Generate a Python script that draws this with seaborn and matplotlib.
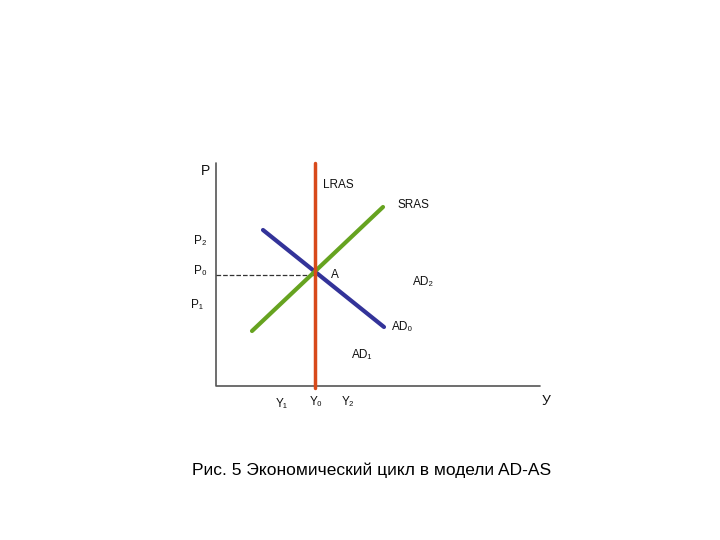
import pandas as pd
import seaborn as sns
import matplotlib.pyplot as plt

sns.set_style('white')
plt.rcParams['font.family'] = ['Liberation Sans', 'DejaVu Sans']

# coordinates in picture space (x right, y down)
axis_x = [216, 216, 540]
axis_y = [163, 386, 386]
lras_x = [315, 315]
lras_y = [163, 388]
sras_x = [252, 383]
sras_y = [331, 207]
ad_x = [263, 384]
ad_y = [230, 327]
p0_x = [216, 315]
p0_y = [275, 275]

labels = ['P', 'LRAS', 'SRAS', 'P₂', 'P₀', 'A', 'AD₂', 'P₁', 'AD₀', 'AD₁', 'Y₁', 'Y₀', 'Y₂', 'У']
label_x = [205, 338, 413, 200, 200, 335, 423, 197, 403, 362, 282, 316, 348, 546]
label_y = [171, 185, 205, 241, 271, 275, 282, 305, 327, 355, 404, 402, 402, 401]

fig = plt.figure(figsize=(7.2, 5.4), dpi=100)
ax = fig.add_axes([0, 0, 1, 1])

kw = dict(sort=False, estimator=None, ax=ax)
sns.lineplot(x=axis_x, y=axis_y, color='#555555', lw=1.2, **kw)
sns.lineplot(x=p0_x, y=p0_y, color='#333333', lw=0.9, ls='--', **kw)
sns.lineplot(x=ad_x, y=ad_y, color='#333399', lw=3, **kw)
sns.lineplot(x=sras_x, y=sras_y, color='#66a320', lw=3, **kw)
sns.lineplot(x=lras_x, y=lras_y, color='#d84a1b', lw=2.5, **kw)

for t, x, y in zip(labels, label_x, label_y):
    ax.text(x, y, t, fontsize=8.5 if t != 'P' and t != 'У' else 10,
            ha='center', va='center', color='#111111')

ax.text(372, 470, 'Рис. 5 Экономический цикл в модели AD-AS',
        fontsize=12.5, ha='center', va='center', color='black')

ax.set_xlim(0, 720)
ax.set_ylim(540, 0)
ax.axis('off')
fig.savefig('out.png', dpi=100)
